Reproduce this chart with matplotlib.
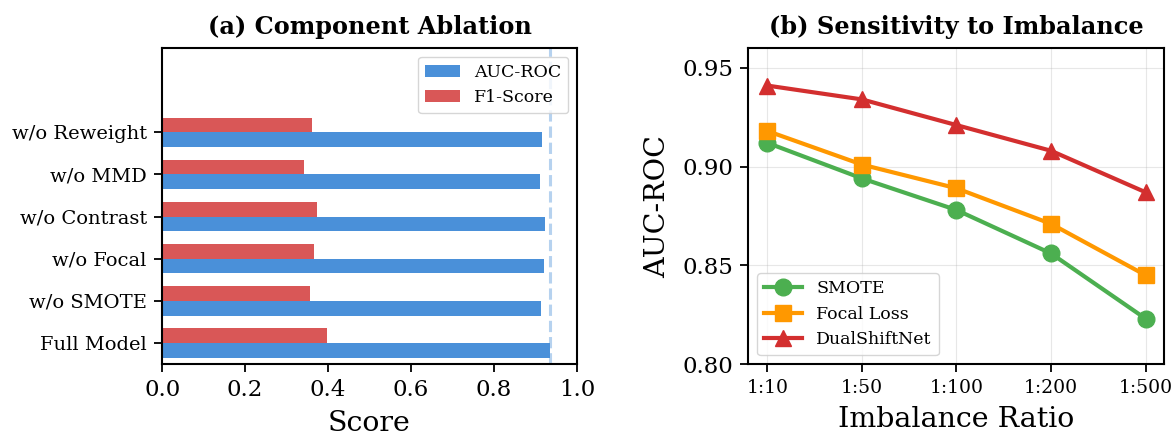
import numpy as np
import matplotlib
matplotlib.use("Agg")
import matplotlib.pyplot as plt

plt.rcParams['font.family'] = 'DejaVu Serif'

# (a) component ablation
components = ["Full Model", "w/o SMOTE", "w/o Focal", "w/o Contrast", "w/o MMD", "w/o Reweight"]
auc_scores = [0.934, 0.913, 0.920, 0.922, 0.910, 0.917]
f1_scores = [0.398, 0.357, 0.367, 0.374, 0.343, 0.362]

# (b) sensitivity to imbalance
ratios = ["1:10", "1:50", "1:100", "1:200", "1:500"]
smote = [0.912, 0.894, 0.878, 0.856, 0.823]
focal_loss = [0.918, 0.901, 0.889, 0.871, 0.845]
dualshiftnet = [0.941, 0.934, 0.921, 0.908, 0.887]

fig = plt.figure(figsize=(11.75, 4.37), dpi=100)
ax1 = fig.add_axes([0.138, 0.167, 0.353, 0.723])
ax2 = fig.add_axes([0.637, 0.167, 0.354, 0.723])

# Balkendiagramm
y = np.arange(len(components))
h = 0.35
ax1.barh(y - h / 2, auc_scores, h, color="#4A90D9", label="AUC-ROC")
ax1.barh(y + h / 2, f1_scores, h, color="#D95757", label="F1-Score")
ax1.axvline(auc_scores[0], color="#4A90D9", linestyle="--", linewidth=2.2, alpha=0.4)
ax1.set_yticks(y)
ax1.set_yticklabels(components, fontsize=14)
ax1.set_xlim(0, 1.0)
ax1.set_ylim(-0.5, 7.0)
ax1.tick_params(axis="x", labelsize=16.5)
ax1.set_xlabel("Score", fontsize=20.5, labelpad=6)
ax1.set_title("(a) Component Ablation", fontsize=17.3, fontweight="bold", pad=10)
ax1.legend(loc="upper right", fontsize=12.5)

# Liniendiagramm
x = np.arange(len(ratios))
ax2.plot(x, smote, "-o", color="#4CAF50", linewidth=3, markersize=12, label="SMOTE")
ax2.plot(x, focal_loss, "-s", color="#FF9800", linewidth=3, markersize=12, label="Focal Loss")
ax2.plot(x, dualshiftnet, "-^", color="#D32F2F", linewidth=3, markersize=12, label="DualShiftNet")
ax2.set_xticks(x)
ax2.set_xticklabels(ratios, fontsize=13.5)
ax2.set_xlim(-0.2, 4.2)
ax2.set_ylim(0.80, 0.96)
ax2.set_yticks([0.80, 0.85, 0.90, 0.95])
ax2.tick_params(axis="y", labelsize=16.5)
ax2.grid(True, alpha=0.3)
ax2.set_xlabel("Imbalance Ratio", fontsize=20.5, labelpad=6)
ax2.set_ylabel("AUC-ROC", fontsize=20.5, labelpad=8)
ax2.set_title("(b) Sensitivity to Imbalance", fontsize=17.3, fontweight="bold", pad=10)
ax2.legend(loc="lower left", fontsize=12.5, handlelength=2.2)

for ax in (ax1, ax2):
    for s in ax.spines.values():
        s.set_linewidth(1.5)
    ax.tick_params(width=1.3, length=6, pad=5)

fig.savefig("out.png", dpi=100)
